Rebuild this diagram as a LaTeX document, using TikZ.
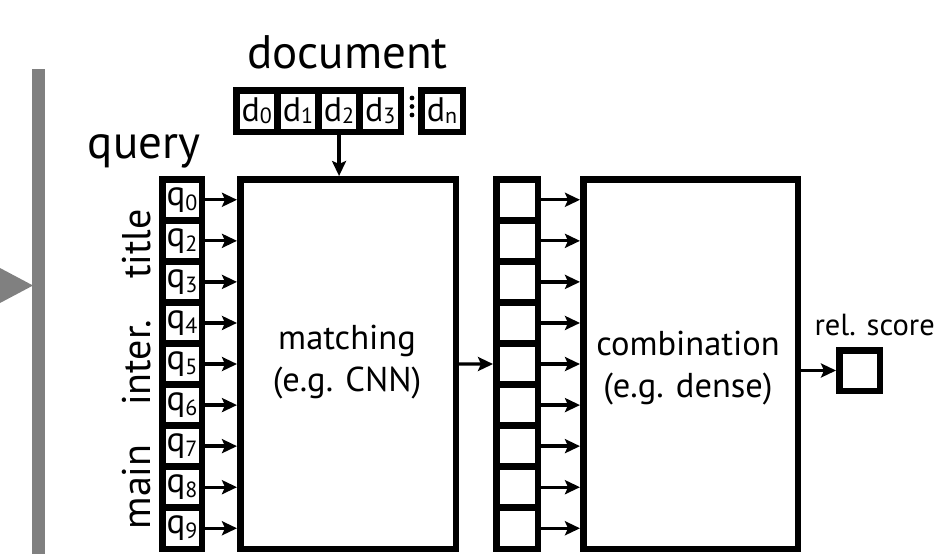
\documentclass[tikz,border=0pt]{standalone}
\usepackage{fontspec}
\setmainfont{PT Sans}
\usetikzlibrary{arrows.meta}

% small lowered index used in the cell labels
\newcommand\idx[3]{\raisebox{-#2}{\fontsize{#3}{#3}\selectfont #1}}

\begin{document}
\begin{tikzpicture}[x=1pt,y=-1pt,
  box/.style={draw, line width=6.5pt, inner sep=0pt, outer sep=0.5\pgflinewidth},
  qcell/.style={box, minimum width=39.5pt, minimum height=41.06pt,
                font=\fontsize{35}{35}\selectfont},
  dcell/.style={box, minimum width=41.125pt, minimum height=41.5pt,
                font=\fontsize{34}{34}\selectfont},
  vcell/.style={box, minimum width=41.5pt, minimum height=41.06pt},
  bigbox/.style={box, minimum height=369.5pt},
  conn/.style={line width=3.3pt, -{Stealth[length=15pt, width=14pt, inset=3pt]}},
  headfont/.style={font=\fontsize{47}{47}\selectfont},
  sidefont/.style={font=\fontsize{40}{40}\selectfont},
  textfont/.style={font=\fontsize{34.5}{34.5}\selectfont},
  smallfont/.style={font=\fontsize{30.5}{30.5}\selectfont}]

\useasboundingbox (0,0) rectangle (936,554);

% grey marker on the left edge
\fill[gray] (32,69) rectangle (45,554);
\fill[gray] (0,268) -- (33,285.5) -- (0,303) -- cycle;

% titles
\node[headfont, anchor=base] (doclabel) at (347.5,68) {document};
\node[headfont, anchor=base] (querylabel) at (144,158) {query};

% document terms
\foreach \k/\t in {0/0,1/1,2/2,3/3}
  \node[dcell] (d\k) at ({236.25+41.125*(\k+0.5)},111) {d\idx{\t}{2pt}{22}};
\node[dcell, minimum width=41.5pt] (dn) at (442,111) {d\idx{n}{2pt}{22}};
\foreach \yy in {98,106.5,115}
  \fill (412,\yy) circle (2.4);

% big processing boxes
\node[bigbox, minimum width=215.5pt] (match) at (348,364) {};
\node[bigbox, minimum width=214.5pt] (comb) at (690.5,364) {};
\node[textfont, anchor=base] (mt1) at (347,349) {matching};
\node[textfont, anchor=base] (mt2) at (347,391) {(e.g. CNN)};
\node[textfont, anchor=base] (ct1) at (688,355) {combination};
\node[textfont, anchor=base] (ct2) at (688,397) {(e.g. dense)};

% query terms and intermediate vector
\foreach \i/\t in {0/0,1/2,2/3,3/4,4/5,5/6,6/7,7/8,8/9} {
  \node[qcell] (q\i) at (182,{179.25+41.06*(\i+0.5)}) {q\idx{\t}{5pt}{22}};
  \node[vcell] (v\i) at (517,{179.25+41.06*(\i+0.5)}) {};
  \draw[conn] (q\i.east) -- (q\i.east -| match.west);
  \draw[conn] (v\i.east) -- (v\i.east -| comb.west);
}

% query field labels
\node[sidefont, rotate=90, anchor=base] (ftitle) at (150,244) {title};
\node[sidefont, rotate=90, anchor=base] (finter) at (150,363) {inter.};
\node[sidefont, rotate=90, anchor=base] (fmain) at (150,487) {main};

% output
\node[box, minimum width=40.5pt, minimum height=40.5pt] (out) at (859.5,370.5) {};
\node[smallfont, anchor=base west] (rel) at (811,335) {rel. score};

% connections
\draw[conn] (d2.south) -- (d2.south |- match.north);
\draw[conn] (match.east) -- (v4.west);
\draw[conn] (out.west -| comb.east) -- (out.west);

\end{tikzpicture}
\end{document}
